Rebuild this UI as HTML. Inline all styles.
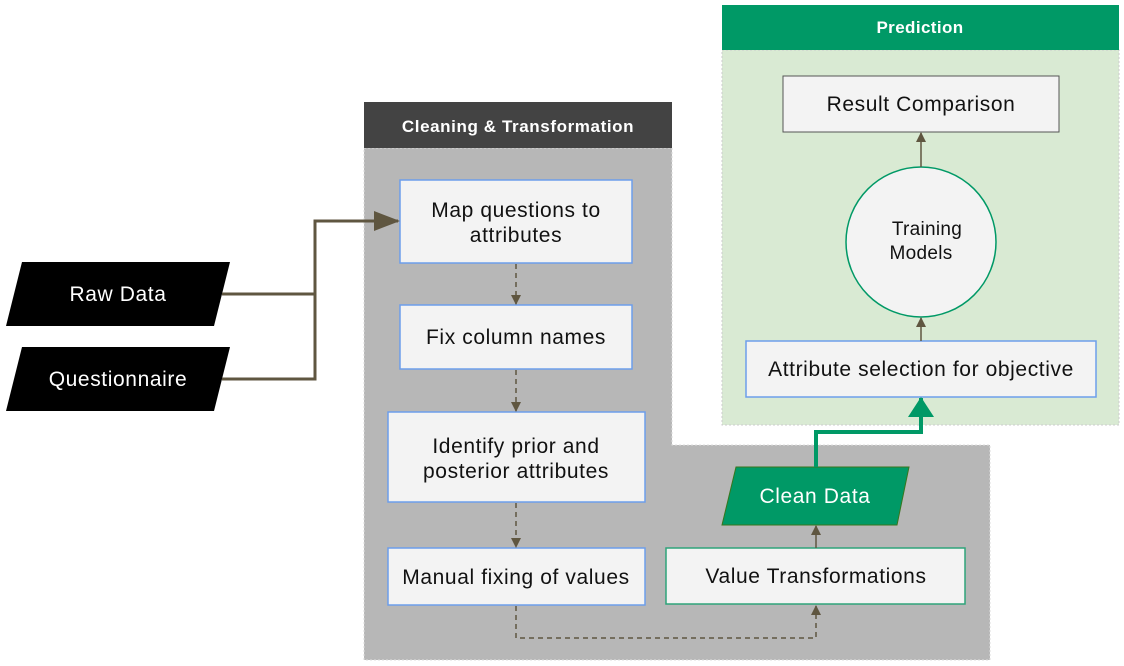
<!DOCTYPE html>
<html><head><style>body{margin:0;background:#fff}svg{display:block}text{font-family:"Liberation Sans",sans-serif}</style></head><body>
<svg width="1124" height="666" viewBox="0 0 1124 666">
<defs>
<marker id="ab" markerWidth="10" markerHeight="10" refX="9" refY="5" orient="auto" markerUnits="userSpaceOnUse"><path d="M0,0L10,5L0,10z" fill="#5f5640"/></marker>
<marker id="abig" markerWidth="26" markerHeight="20" refX="24" refY="10" orient="auto" markerUnits="userSpaceOnUse"><path d="M0,0L26,10L0,20z" fill="#5f5640"/></marker>
<marker id="ag" markerWidth="20" markerHeight="26" refX="19" refY="13" orient="auto" markerUnits="userSpaceOnUse"><path d="M0,0L20,13L0,26z" fill="#009966"/></marker>
</defs>
<path d="M364,148H672V445H990V660H364Z" fill="#b7b7b7" stroke="#ddd" stroke-dasharray="2,2"/>
<rect x="364" y="102" width="308" height="46" fill="#434343"/>
<text x="518" y="132" fill="#fff" font-size="17" font-weight="bold" letter-spacing="0.6" text-anchor="middle">Cleaning &amp; Transformation</text>
<rect x="722" y="50" width="397" height="375" fill="#d9ead3" stroke="#ccc" stroke-dasharray="2,2"/>
<rect x="722" y="5" width="397" height="45" fill="#009966"/>
<text x="920" y="33" fill="#fff" font-size="17" font-weight="bold" letter-spacing="0.4" text-anchor="middle">Prediction</text>
<g fill="#f3f3f3" stroke="#6d9eeb" stroke-width="1.5">
<rect x="400" y="180" width="232" height="83"/>
<rect x="400" y="305" width="232" height="64"/>
<rect x="388" y="412" width="257" height="90"/>
<rect x="388" y="548" width="257" height="57"/>
<rect x="746" y="341" width="350" height="56"/>
</g>
<rect x="666" y="548" width="299" height="56" fill="#f3f3f3" stroke="#2ea47a" stroke-width="1.5"/>
<rect x="783" y="76" width="276" height="56" fill="#f3f3f3" stroke="#555" stroke-width="1"/>
<circle cx="921" cy="242" r="75" fill="#f3f3f3" stroke="#009966" stroke-width="1.5"/>
<path d="M736,467H909L897,525H722Z" fill="#009966" stroke="#38761d"/>
<path d="M22,262H230L214,326H6Z" fill="#000"/>
<path d="M22,347H230L214,411H6Z" fill="#000"/>
<g font-size="21" letter-spacing="0.6" text-anchor="middle" fill="#111">
<text x="516" y="217">Map questions to</text><text x="516" y="242">attributes</text>
<text x="516" y="344">Fix column names</text>
<text x="516" y="453">Identify prior and</text><text x="516" y="478">posterior attributes</text>
<text x="516" y="584">Manual fixing of values</text>
<text x="816" y="583">Value Transformations</text>
<text x="921" y="111">Result Comparison</text>
<text x="921" y="376">Attribute selection for objective</text>
<text x="927" y="235" font-size="19" letter-spacing="0.3">Training</text><text x="921" y="259" font-size="19" letter-spacing="0.3">Models</text>
<text x="815" y="503" fill="#fff">Clean Data</text>
<text x="118" y="301" fill="#fff">Raw Data</text>
<text x="118" y="386" fill="#fff">Questionnaire</text>
</g>
<g fill="none" stroke="#5f5640" stroke-width="3">
<path d="M222,294H315M222,379H315V221H398" marker-end="url(#abig)"/>
</g>
<g fill="none" stroke="#5f5640" stroke-width="1.5" stroke-dasharray="5,4">
<path d="M516,264V304" marker-end="url(#ab)"/>
<path d="M516,370V411" marker-end="url(#ab)"/>
<path d="M516,503V547" marker-end="url(#ab)"/>
<path d="M516,606V638H816V606" marker-end="url(#ab)"/>
</g>
<g fill="none" stroke="#5f5640" stroke-width="1.5">
<path d="M816,548V526" marker-end="url(#ab)"/>
<path d="M921,341V318" marker-end="url(#ab)"/>
<path d="M921,167V133" marker-end="url(#ab)"/>
</g>
<path d="M816,467V432H921V398" fill="none" stroke="#009966" stroke-width="4" marker-end="url(#ag)"/>
</svg>
</body></html>
